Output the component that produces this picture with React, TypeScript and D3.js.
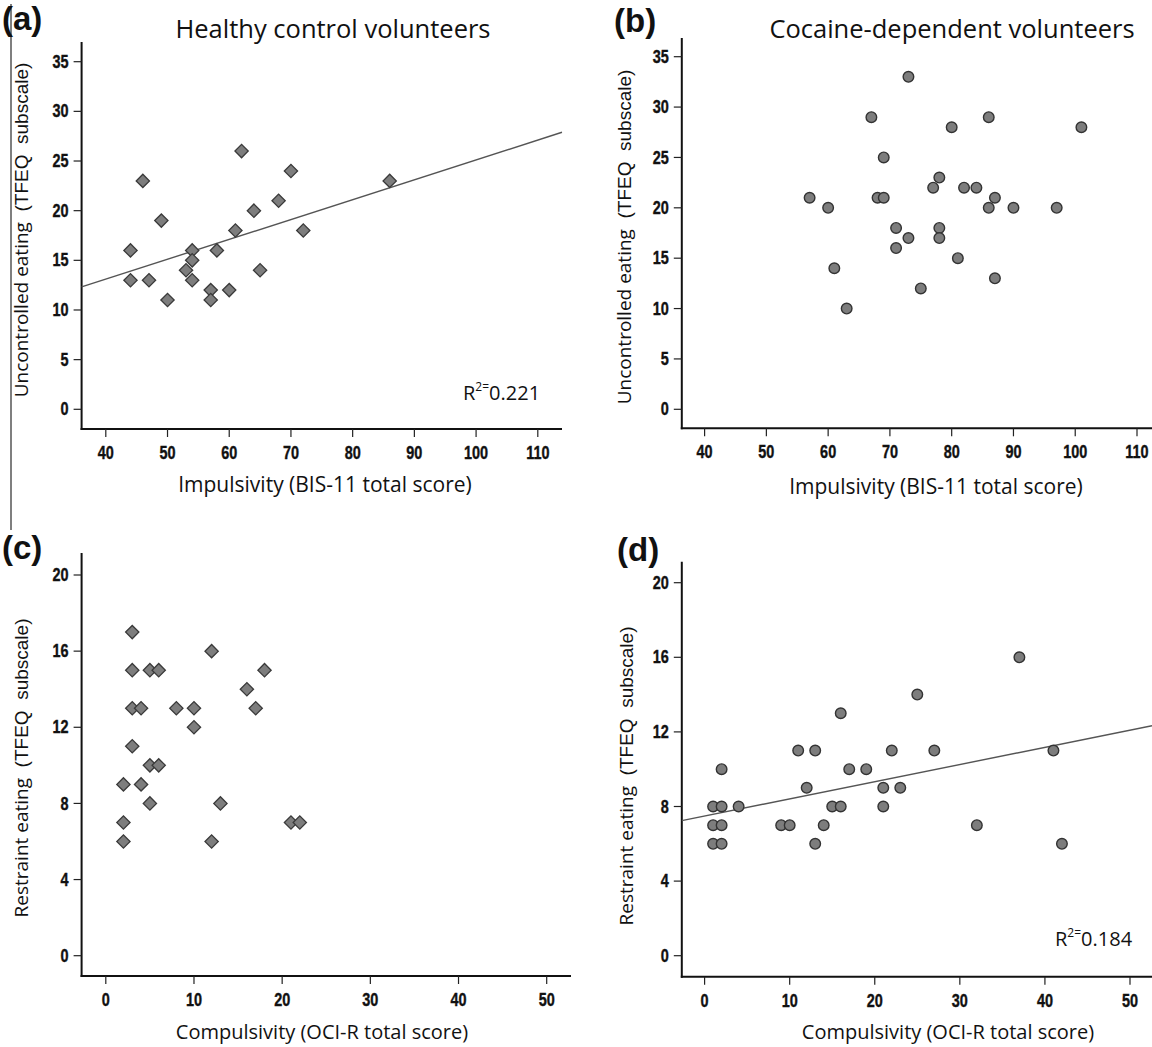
import React from "react";
import * as d3 from "d3";

// ---------- DATA ----------
// (a) Healthy controls: impulsivity vs uncontrolled eating
const healthyBIS = [44, 44, 46, 47, 49, 50, 53, 54, 54, 54, 57, 57, 58, 60, 61, 62, 64, 65, 68, 70, 72, 86];
const healthyUE = [16, 13, 23, 13, 19, 11, 14, 16, 15, 13, 12, 11, 16, 12, 18, 26, 20, 14, 21, 24, 18, 23];
const fitA = [5.11, 0.2]; // intercept, slope
const r2A = "0.221";

// (b) Cocaine-dependent: impulsivity vs uncontrolled eating
const cocaineBIS = [73, 67, 80, 86, 101, 69, 78, 77, 82, 84, 57, 68, 69, 87, 60, 86, 90, 97, 71, 78, 73, 78, 71, 81, 61, 63, 75, 87];
const cocaineUE = [33, 29, 28, 29, 28, 25, 23, 22, 22, 22, 21, 21, 21, 21, 20, 20, 20, 20, 18, 18, 17, 17, 16, 15, 14, 10, 12, 13];

// (c) Healthy controls: compulsivity vs restraint eating
const healthyOCI = [3, 3, 5, 6, 12, 18, 16, 3, 4, 8, 10, 17, 10, 3, 5, 6, 2, 4, 5, 13, 2, 21, 22, 2, 12];
const healthyRE = [17, 15, 15, 15, 16, 15, 14, 13, 13, 13, 13, 13, 12, 11, 10, 10, 9, 9, 8, 8, 7, 7, 7, 6, 6];

// (d) Cocaine-dependent: compulsivity vs restraint eating
const cocaineOCI = [37, 25, 16, 11, 13, 22, 27, 41, 2, 17, 19, 12, 21, 23, 21, 1, 2, 4, 15, 16, 1, 2, 9, 10, 14, 32, 1, 2, 13, 42];
const cocaineRE = [16, 14, 13, 11, 11, 11, 11, 11, 10, 10, 10, 9, 9, 9, 8, 8, 8, 8, 8, 8, 7, 7, 7, 7, 7, 7, 6, 6, 6, 6];
const fitD = [7.49, 0.092];
const r2D = "0.184";

const bisTicks = [40, 50, 60, 70, 80, 90, 100, 110];
const ueTicks = [0, 5, 10, 15, 20, 25, 30, 35];
const ociTicks = [0, 10, 20, 30, 40, 50];
const reTicks = [0, 4, 8, 12, 16, 20];

const TICK_FONT = "'Liberation Sans', Arial, sans-serif";
const LABEL_FONT = "'Open Sans', 'Noto Sans', sans-serif";
const ARIAL = "'Liberation Sans', Arial, sans-serif";

type PanelProps = {
  letter: string;
  letterX: number;
  letterY: number;
  title?: string;
  titleX?: number;
  xDomain: [number, number];
  xRange: [number, number];
  yDomain: [number, number];
  yRange: [number, number];
  axisLeft: number;
  axisRight: number;
  axisBottom: number;
  axisTop: number;
  xTicks: number[];
  yTicks: number[];
  xs: number[];
  ys: number[];
  marker: "diamond" | "circle";
  fit?: number[];
  r2?: string;
  r2X?: number;
  r2Y?: number;
  xTitle: string;
  xTitleX: number;
  xTitleY: number;
  xTitleSize: number;
  yTitleMain: string;
  yTitleX: number;
  yTitleY: number;
};

function Panel(p: PanelProps) {
  const x = d3.scaleLinear().domain(p.xDomain).range(p.xRange);
  const y = d3.scaleLinear().domain(p.yDomain).range(p.yRange);
  const xMinV = x.invert(p.axisLeft);
  const xMaxV = x.invert(p.axisRight);
  const diamond = d3.symbol().type(d3.symbolSquare).size(88)();
  const circle = d3.symbol().type(d3.symbolCircle).size(88)();
  const line = d3
    .line<number>()
    .x((v) => x(v))
    .y((v) => y(p.fit ? p.fit[0] + p.fit[1] * v : 0));
  return (
    <g>
      <text x={p.letterX} y={p.letterY} fontFamily={ARIAL} fontWeight="bold" fontSize={33} fill="#111">
        {p.letter}
      </text>
      {p.title && (
        <text x={p.titleX} y={38} textAnchor="middle" fontFamily={LABEL_FONT} fontSize={25.5} fill="#111">
          {p.title}
        </text>
      )}
      {/* axes */}
      <line x1={p.axisLeft} x2={p.axisLeft} y1={p.axisTop} y2={p.axisBottom + 1} stroke="#111" strokeWidth={2} />
      <line x1={p.axisLeft - 1} x2={p.axisRight} y1={p.axisBottom} y2={p.axisBottom} stroke="#111" strokeWidth={2} />
      {p.yTicks.map((t) => (
        <g key={"y" + t}>
          <line x1={p.axisLeft - 8} x2={p.axisLeft} y1={y(t)} y2={y(t)} stroke="#222" strokeWidth={1.2} />
          <text
            transform={`translate(${p.axisLeft - 13},${y(t)}) scale(0.78,1)`}
            textAnchor="end"
            dominantBaseline="central"
            fontFamily={TICK_FONT}
            fontWeight="bold"
            fontSize={18.5}
            fill="#111"
            stroke="#111"
            strokeWidth={0.4}
          >
            {t}
          </text>
        </g>
      ))}
      {p.xTicks.map((t) => (
        <g key={"x" + t}>
          <line x1={x(t)} x2={x(t)} y1={p.axisBottom} y2={p.axisBottom + 8} stroke="#222" strokeWidth={1.2} />
          <text
            transform={`translate(${x(t)},${p.axisBottom + 24}) scale(0.78,1)`}
            textAnchor="middle"
            dominantBaseline="central"
            fontFamily={TICK_FONT}
            fontWeight="bold"
            fontSize={18.5}
            fill="#111"
            stroke="#111"
            strokeWidth={0.4}
          >
            {t}
          </text>
        </g>
      ))}
      {/* fit line */}
      {p.fit && <path d={line([xMinV, xMaxV]) || ""} stroke="#555" strokeWidth={1.4} fill="none" />}
      {/* points */}
      {p.xs.map((v, i) =>
        p.marker === "diamond" ? (
          <path
            key={i}
            d={diamond || ""}
            transform={`translate(${x(v)},${y(p.ys[i])}) rotate(45)`}
            fill="#7d7d7d"
            stroke="#3a3a3a"
            strokeWidth={1.3}
          />
        ) : (
          <path
            key={i}
            d={circle || ""}
            transform={`translate(${x(v)},${y(p.ys[i])})`}
            fill="#7d7d7d"
            stroke="#333"
            strokeWidth={1.4}
          />
        )
      )}
      {p.r2 && (
        <text x={p.r2X} y={p.r2Y} dominantBaseline="central" fontFamily={LABEL_FONT} fontSize={20} fill="#111">
          R
          <tspan fontSize={12} dy={-6}>
            2=
          </tspan>
          <tspan dy={6}>{p.r2}</tspan>
        </text>
      )}
      <text
        x={p.xTitleX}
        y={p.xTitleY}
        textAnchor="middle"
        dominantBaseline="central"
        fontFamily={LABEL_FONT}
        fontSize={p.xTitleSize}
        fill="#111"
      >
        {p.xTitle}
      </text>
      <text
        transform={`translate(${p.yTitleX},${p.yTitleY}) rotate(-90)`}
        textAnchor="middle"
        dominantBaseline="central"
        fontSize={19}
        fill="#111"
      >
        <tspan fontFamily={LABEL_FONT}>{p.yTitleMain}</tspan>
        <tspan fontFamily={ARIAL} xmlSpace="preserve">{"  (TFEQ  subscale)"}</tspan>
      </text>
    </g>
  );
}

export default function App() {
  return (
    <svg
      width={1152}
      height={1047}
      style={{ position: "absolute", left: 0, top: 0, background: "#fff" }}
      xmlns="http://www.w3.org/2000/svg"
    >
      <rect width={1152} height={1047} fill="#fff" />
      <line x1={11} x2={11} y1={4} y2={530} stroke="#555" strokeWidth={1.5} />
      <Panel
        letter="(a)"
        letterX={2}
        letterY={30}
        title="Healthy control volunteers"
        titleX={333}
        xDomain={[40, 110]}
        xRange={[105.8, 537.8]}
        yDomain={[0, 35]}
        yRange={[409.3, 61.7]}
        axisLeft={81.6}
        axisRight={562}
        axisBottom={429}
        axisTop={42}
        xTicks={bisTicks}
        yTicks={ueTicks}
        xs={healthyBIS}
        ys={healthyUE}
        marker="diamond"
        fit={fitA}
        r2={r2A}
        r2X={463}
        r2Y={392}
        xTitle="Impulsivity (BIS-11 total score)"
        xTitleX={325}
        xTitleY={484}
        xTitleSize={21}
        yTitleMain="Uncontrolled eating"
        yTitleX={21}
        yTitleY={230}
      />
      <Panel
        letter="(b)"
        letterX={614}
        letterY={32}
        title="Cocaine-dependent volunteers"
        titleX={952}
        xDomain={[40, 110]}
        xRange={[704.6, 1137]}
        yDomain={[0, 35]}
        yRange={[409.3, 56.7]}
        axisLeft={681.8}
        axisRight={1152}
        axisBottom={428.3}
        axisTop={38}
        xTicks={bisTicks}
        yTicks={ueTicks}
        xs={cocaineBIS}
        ys={cocaineUE}
        marker="circle"
        xTitle="Impulsivity (BIS-11 total score)"
        xTitleX={936}
        xTitleY={486}
        xTitleSize={21}
        yTitleMain="Uncontrolled eating"
        yTitleX={624}
        yTitleY={237}
      />
      <Panel
        letter="(c)"
        letterX={2}
        letterY={559}
        xDomain={[0, 50]}
        xRange={[105.8, 546.7]}
        yDomain={[0, 20]}
        yRange={[955.7, 575]}
        axisLeft={81.6}
        axisRight={571}
        axisBottom={976}
        axisTop={553}
        xTicks={ociTicks}
        yTicks={reTicks}
        xs={healthyOCI}
        ys={healthyRE}
        marker="diamond"
        xTitle="Compulsivity (OCI-R total score)"
        xTitleX={322}
        xTitleY={1031}
        xTitleSize={20}
        yTitleMain="Restraint eating"
        yTitleX={21}
        yTitleY={768}
      />
      <Panel
        letter="(d)"
        letterX={617}
        letterY={561}
        xDomain={[0, 50]}
        xRange={[704.6, 1130]}
        yDomain={[0, 20]}
        yRange={[955.7, 582.7]}
        axisLeft={681.8}
        axisRight={1152}
        axisBottom={976.7}
        axisTop={561.7}
        xTicks={ociTicks}
        yTicks={reTicks}
        xs={cocaineOCI}
        ys={cocaineRE}
        marker="circle"
        fit={fitD}
        r2={r2D}
        r2X={1055}
        r2Y={938}
        xTitle="Compulsivity (OCI-R total score)"
        xTitleX={948}
        xTitleY={1031}
        xTitleSize={20}
        yTitleMain="Restraint eating"
        yTitleX={626}
        yTitleY={776}
      />
    </svg>
  );
}
